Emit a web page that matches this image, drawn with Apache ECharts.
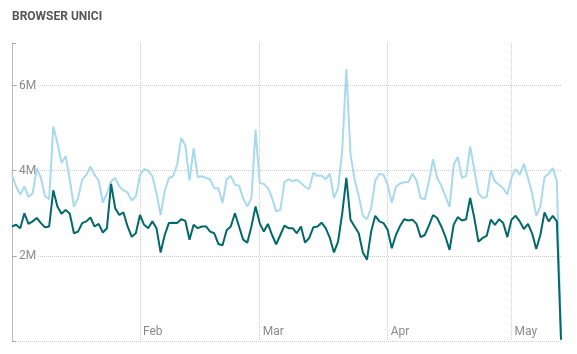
<!DOCTYPE html>
<html>
<head>
<meta charset="utf-8">
<script src="https://cdn.jsdelivr.net/npm/echarts@6/dist/echarts.min.js"></script>
<style>
  html, body { margin: 0; padding: 0; background: #fff; }
  #chart { width: 577px; height: 354px; }
</style>
</head>
<body>
<div id="chart"></div>
<script>
// ========== BROWSER UNICI ==========
// dati giornalieri in milioni, dal 1 gennaio
const startDate = [2016, 0, 1];
const dayCount = 134;
const monthLabels = ['Jan', 'Feb', 'Mar', 'Apr', 'May', 'Jun', 'Jul', 'Aug', 'Sep', 'Oct', 'Nov', 'Dec'];
const yLabelValues = [2, 4, 6];
const yTickValues = [0, 2, 4, 6, 7];

const lightValues = [
  3.9, 3.63, 3.44, 3.63, 3.38, 3.47, 4.06, 3.83, 3.4, 3.33,
  5.04, 4.65, 4.18, 4.34, 3.79, 3.16, 3.36, 3.79, 3.9, 4.1,
  3.9, 3.77, 3.25, 3.47, 3.75, 3.83, 3.63, 3.54, 3.49, 3.3,
  3.4, 3.9, 4.04, 4.0, 3.87, 3.47, 2.96, 3.53, 3.83, 3.87,
  4.14, 4.77, 4.59, 3.77, 4.53, 3.85, 3.87, 3.83, 3.8, 3.59,
  3.59, 3.24, 3.8, 3.88, 3.67, 3.65, 3.35, 3.16, 3.36, 4.96,
  3.71, 3.69, 3.59, 3.36, 3.04, 3.08, 3.73, 3.8, 3.75, 3.79,
  3.71, 3.62, 3.57, 3.95, 3.88, 3.89, 3.8, 3.93, 3.36, 3.59,
  4.49, 6.39, 4.38, 3.79, 3.4, 2.94, 2.86, 3.12, 3.77, 3.93,
  3.9, 3.67, 3.25, 3.62, 3.7, 3.73, 3.73, 3.93, 3.77, 3.36,
  3.33, 3.75, 4.27, 3.83, 3.65, 3.4, 3.15, 4.14, 4.32, 3.83,
  3.88, 4.57, 4.02, 3.47, 3.36, 3.38, 4.0, 3.75, 3.67, 3.59,
  3.44, 3.83, 4.04, 3.9, 4.16, 3.83, 3.47, 2.94, 3.16, 3.85,
  3.93, 4.06, 3.75, 0.05
];

const darkValues = [
  2.69, 2.73, 2.65, 3.0, 2.75, 2.81, 2.89, 2.77, 2.67, 2.69,
  3.54, 3.16, 2.99, 3.08, 2.99, 2.53, 2.57, 2.77, 2.81, 2.9,
  2.69, 2.75, 2.55, 2.65, 3.69, 3.12, 2.96, 3.02, 2.69, 2.45,
  2.53, 2.96, 2.73, 2.65, 2.81, 2.65, 2.08, 2.49, 2.77, 2.78,
  2.77, 2.86, 2.82, 2.38, 2.73, 2.65, 2.69, 2.69, 2.57, 2.53,
  2.28, 2.25, 2.6, 2.69, 3.0, 2.69, 2.38, 2.31, 2.69, 3.16,
  2.77, 2.57, 2.75, 2.49, 2.27, 2.49, 2.71, 2.65, 2.65, 2.53,
  2.69, 2.31, 2.42, 2.67, 2.69, 2.78, 2.65, 2.42, 2.08, 2.34,
  3.0, 3.83, 2.85, 2.69, 2.53, 2.08, 1.91, 2.57, 2.94, 2.81,
  2.77, 2.61, 2.18, 2.49, 2.7, 2.86, 2.83, 2.85, 2.75, 2.44,
  2.49, 2.71, 2.96, 2.89, 2.69, 2.45, 2.14, 2.73, 2.91, 2.83,
  2.86, 3.36, 2.89, 2.33, 2.42, 2.47, 2.85, 2.73, 2.86, 2.77,
  2.44, 2.85, 2.94, 2.81, 2.63, 2.75, 2.53, 2.16, 2.49, 3.02,
  2.81, 2.94, 2.81, 0.03
];

// categorie: un giorno per punto
const dates = [];
for (let i = 0; i < dayCount; i++) {
  const d = new Date(Date.UTC(startDate[0], startDate[1], startDate[2] + i));
  dates.push(d.toISOString().slice(0, 10));
}
const isMonthStart = (idx, val) => idx > 0 && val.slice(8, 10) === '01';

const chart = echarts.init(document.getElementById('chart'));
const gridColor = '#cccccc';
const labelColor = '#8a8a8a';
const font = 'Roboto, "Liberation Sans", sans-serif';

chart.setOption({
  animation: false,
  backgroundColor: '#fff',
  title: {
    text: 'BROWSER UNICI', left: 12, top: 11, padding: 0,
    textStyle: { fontSize: 12, fontWeight: 'bold', color: '#555', fontFamily: font }
  },
  grid: { left: 12, right: 16, top: 43, bottom: 13, containLabel: false },
  xAxis: {
    type: 'category', data: dates, boundaryGap: false,
    axisLine: { show: false },
    axisTick: { show: false },
    axisLabel: {
      inside: true, interval: isMonthStart, margin: 3, align: 'left',
      padding: [0, 0, 0, 3], verticalAlign: 'bottom',
      color: labelColor, fontSize: 12, fontFamily: font,
      formatter: v => monthLabels[+v.slice(5, 7) - 1]
    },
    splitLine: { show: true, interval: isMonthStart, lineStyle: { color: gridColor, type: 'dotted', width: 1 } }
  },
  yAxis: {
    type: 'value', min: 0, max: 7, interval: 2,
    axisLine: { show: true, lineStyle: { color: '#bbb', width: 1 } },
    axisTick: { show: true, inside: true, length: 4, customValues: yTickValues, lineStyle: { color: '#aaa' } },
    axisLabel: {
      inside: true, margin: 6, customValues: yLabelValues,
      color: labelColor, fontSize: 12, fontFamily: font,
      backgroundColor: '#fff', padding: [0, 1, 0, 1],
      formatter: v => v + 'M'
    },
    splitLine: { show: true, showMinLine: true, showMaxLine: false, lineStyle: { color: gridColor, type: 'dotted', width: 1 } }
  },
  series: [
    { name: 'light', type: 'line', data: lightValues, symbol: 'none', smooth: false,
      lineStyle: { color: '#a8daed', width: 2 }, z: 2 },
    { name: 'dark', type: 'line', data: darkValues, symbol: 'none', smooth: false,
      lineStyle: { color: '#02686a', width: 2 }, z: 3 }
  ]
});
</script>
</body>
</html>
